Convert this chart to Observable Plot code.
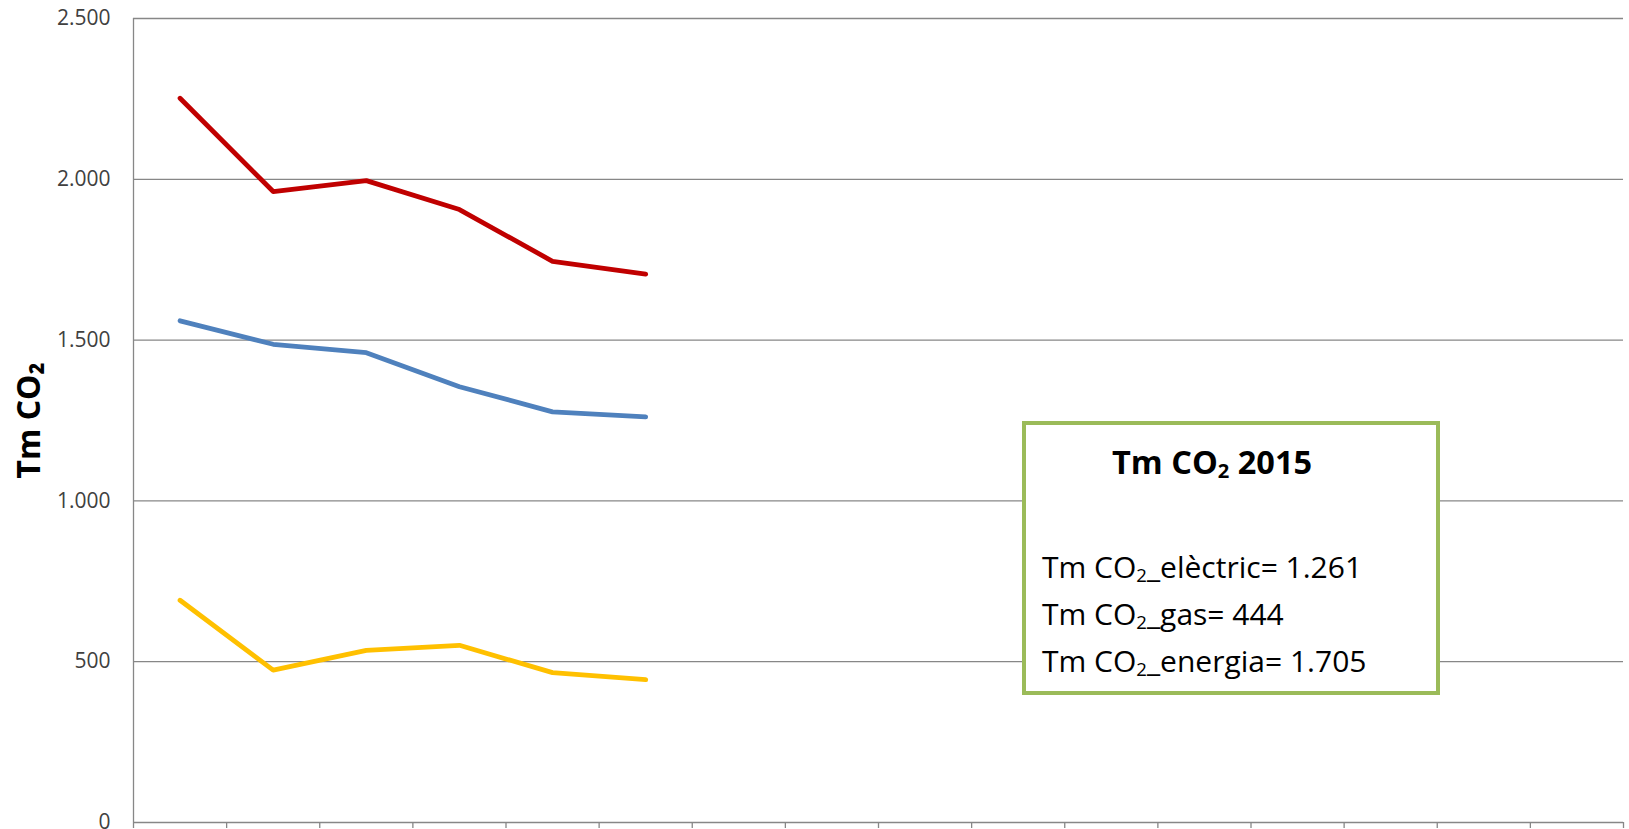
<!DOCTYPE html>
<html>
<head>
<meta charset="utf-8">
<script src="https://cdn.jsdelivr.net/npm/d3@7"></script>
<script src="https://cdn.jsdelivr.net/npm/@observablehq/plot@0.6"></script>
<style>
  html, body { margin: 0; padding: 0; background: #fff; overflow: hidden; }
  #wrap { position: relative; width: 1629px; height: 829px; }
  #box {
    position: absolute; left: 1022px; top: 421px; width: 418px; height: 274px;
    box-sizing: border-box; border: 4px solid #9bbb59; background: #fff;
    font-family: "Open Sans", "Noto Sans", sans-serif; color: #000;
  }
  #box .title { position: absolute; left: 86px; top: 17px; font-size: 32.5px; font-weight: 700; line-height: 40px; white-space: nowrap; }
  #box .lines { position: absolute; left: 16px; top: 118px; font-size: 30px; line-height: 47px; white-space: nowrap; }
  sub { font-size: 0.62em; vertical-align: -0.22em; line-height: 0; }
</style>
</head>
<body>
<div id="wrap"></div>
<script>
// Categories (x axis, labels fall below the visible area)
const years = [2010, 2011, 2012, 2013, 2014, 2015, 2016, 2017, 2018, 2019, 2020, 2021, 2022, 2023, 2024, 2025];
const dataYears = [2010, 2011, 2012, 2013, 2014, 2015];
// Series values (Tm CO2)
const electric = [1560, 1487, 1461, 1355, 1277, 1261];
const gas = [691, 474, 535, 551, 466, 444];
const energia = [2252, 1962, 1996, 1906, 1745, 1705];
const seriesNames = ["Tm CO₂_elèctric", "Tm CO₂_gas", "Tm CO₂_energia"];
const seriesColors = ["#4f81bd", "#ffc000", "#c00000"];
const yTicks = [0, 500, 1000, 1500, 2000, 2500];
const yTitle = "Tm CO₂";
const boxTitle = "2015";
const summary = [
  ["elèctric", "1.261"],
  ["gas", "444"],
  ["energia", "1.705"]
];

const rows = [];
[electric, gas, energia].forEach((vals, s) => {
  vals.forEach((v, i) => rows.push({year: dataYears[i], value: v, series: seriesNames[s]}));
});

const loc = d3.formatLocale({decimal: ",", thousands: ".", grouping: [3], currency: ["", " €"]});
const fmt = loc.format(",d");

const xMin = years[0] - 0.5, xMax = years[years.length - 1] + 0.5;
const boundaries = d3.range(years.length + 1).map(i => xMin + i);
const grid = "#878787";

const chart = Plot.plot({
  width: 1629,
  height: 829,
  marginLeft: 133,
  marginRight: 6,
  marginTop: 18,
  marginBottom: 7,
  style: {fontFamily: "'Open Sans', 'Noto Sans', sans-serif", fontSize: "21px", color: "#404040", background: "white", overflow: "visible"},
  x: {type: "linear", domain: [xMin, xMax], axis: null, label: null},
  y: {domain: [0, 2500], axis: null, label: null},
  color: {domain: seriesNames, range: seriesColors},
  marks: [
    Plot.ruleY(yTicks, {stroke: grid, strokeWidth: 1.3}),
    Plot.ruleX([xMin], {y1: 0, y2: 2500, stroke: grid, strokeWidth: 1.3}),
    Plot.axisX({ticks: boundaries, tickSize: 6, tickFormat: () => "", label: null, stroke: grid, strokeWidth: 1.3}),
    Plot.axisY({ticks: yTicks, tickSize: 0, tickPadding: 23, tickFormat: fmt, label: null, fill: "#404040", fontSize: 21}),
    Plot.text([yTitle], {frameAnchor: "left", rotate: -90, dx: -104, fontSize: 32, fontWeight: "bold", fill: "#000", textAnchor: "middle", lineAnchor: "middle"}),
    Plot.line(rows, {x: "year", y: "value", z: "series", stroke: "series", strokeWidth: 4.8, strokeLinejoin: "round", strokeLinecap: "round"})
  ]
});

const wrap = document.getElementById("wrap");
wrap.appendChild(chart);

const box = document.createElement("div");
box.id = "box";
const t = document.createElement("div");
t.className = "title";
t.innerHTML = "Tm CO<sub>2</sub> " + boxTitle;
box.appendChild(t);
const l = document.createElement("div");
l.className = "lines";
l.innerHTML = summary.map(([k, v]) => "Tm CO<sub>2</sub>_" + k + "= " + v).join("<br>");
box.appendChild(l);
wrap.appendChild(box);
</script>
</body>
</html>
